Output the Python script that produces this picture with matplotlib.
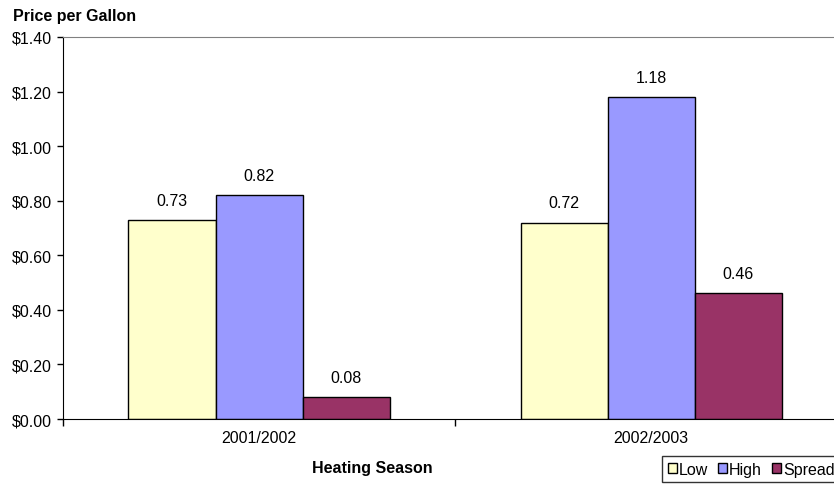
import matplotlib
matplotlib.use("Agg")
import matplotlib.pyplot as plt
import numpy as np

plt.rcParams['font.family'] = ['Liberation Sans', 'DejaVu Sans']

seasons = ["2001/2002", "2002/2003"]
series_names = ["Low", "High", "Spread"]
low = [0.73, 0.72]
high = [0.82, 1.18]
spread = [0.08, 0.46]
yticks = [0.0, 0.2, 0.4, 0.6, 0.8, 1.0, 1.2, 1.4]
colors = ["#FFFFCC", "#9999FF", "#993366"]

FS = 11.5

fig = plt.figure(figsize=(8.34, 4.85), dpi=100)
ax = fig.add_axes([63/834, 1-420/485, 784/834, (420-38)/485])

x = np.arange(len(seasons))
w = 87/392
for i, (vals, c, name) in enumerate(zip([low, high, spread], colors, series_names)):
    ax.bar(x + (i-1)*w, vals, width=w, color=c, edgecolor="black", linewidth=1.0, label=name)
    for xi, v in zip(x + (i-1)*w, vals):
        ax.text(xi, v + 0.045, f"{v:.2f}", ha="center", va="bottom", fontsize=FS)

ax.set_xlim(-0.5, 1.5)
ax.set_ylim(0, 1.4)
ax.set_yticks(yticks)
ax.set_yticklabels([f"${t:.2f}" for t in yticks], fontsize=FS)
ax.set_xticks([-0.5, 0.5, 1.5])
ax.set_xticklabels([])
ax.set_xticks(x, minor=True)
ax.set_xticklabels(seasons, minor=True, fontsize=FS)
ax.tick_params(axis="x", which="minor", length=0, pad=8)
ax.tick_params(axis="x", which="major", length=5, direction="out", width=1)
ax.tick_params(axis="y", length=4, direction="out", width=1, pad=4)

ax.spines["top"].set_color("#808080")
ax.spines["right"].set_visible(False)
ax.spines["left"].set_color("black")
ax.spines["bottom"].set_color("black")

fig.text(13/834, 1-17/485, "Price per Gallon", fontsize=FS, fontweight="bold", va="center", ha="left")
fig.text(372/834, 1-469/485, "Heating Season", fontsize=FS, fontweight="bold", va="center", ha="center")

leg = fig.legend(loc="upper left", bbox_to_anchor=(662/834, 1-457/485), ncol=3, fontsize=FS,
                 frameon=True, fancybox=False, edgecolor="black", handlelength=0.56, handleheight=0.56,
                 handletextpad=0.15, columnspacing=0.6, borderpad=0.35, borderaxespad=0)
leg.get_frame().set_linewidth(1.0)

fig.savefig("out.png", dpi=100)
